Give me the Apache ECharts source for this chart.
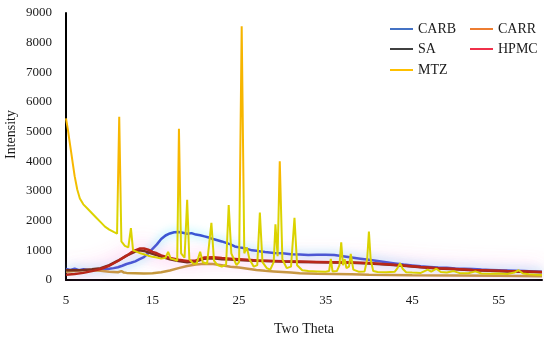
<!DOCTYPE html>
<html>
<head>
<meta charset="utf-8">
<script src="https://cdn.jsdelivr.net/npm/echarts@6/dist/echarts.min.js"></script>
<style>html,body{margin:0;padding:0;background:#fff}#c{width:550px;height:341px}</style>
</head>
<body>
<div id="c"></div>
<script>
// ---- data ----
var xTicks = [5, 15, 25, 35, 45, 55];
var yTicks = [0, 1000, 2000, 3000, 4000, 5000, 6000, 7000, 8000, 9000];
var seriesNames = ['CARB', 'CARR', 'SA', 'HPMC', 'MTZ'];

var carbX = [5,5.5,6,6.5,7,7.5,8,8.5,9,9.5,10,10.5,11,11.5,12,12.5,13,13.5,14,14.5,15,15.5,16,16.5,17,17.5,18,18.5,19,19.5,20,20.5,21,21.5,22,22.5,23,23.5,24,24.5,25,25.5,26,26.5,27,27.5,28,29,30,31,32,33,34,35,36,37,38,39,40,41,42,43,44,45,46,47,48,49,50,51,52,53,54,55,56,57,58,59,60];
var carbY = [370,340,380,330,360,340,330,360,350,370,380,400,430,480,540,580,630,700,770,900,1050,1200,1380,1500,1570,1610,1620,1590,1560,1580,1530,1510,1470,1430,1380,1340,1300,1250,1200,1130,1100,1080,1040,1000,990,960,940,910,900,870,860,840,850,850,840,800,760,720,680,640,600,560,520,490,460,440,420,410,390,380,370,350,340,330,320,310,300,290,280];

var carrX = [5,6,7,8,9,10,11,11.4,11.7,12,13,14,15,16,17,18,19,20,21,22,23,24,25,26,27,28,29,30,31,32,34,36,38,40,45,50,55,60];
var carrY = [280,300,330,330,310,280,260,300,250,240,230,220,230,260,320,400,470,520,550,540,500,450,420,380,340,310,290,270,250,230,210,200,190,180,160,150,140,130];

var saX = [5,6,7,8,9,10,11,12,13,13.5,14,15,16,17,18,19,20,21,22,23,24,26,28,30,32,34,36,38,40,42,44,46,48,50,52,54,56,58,60];
var saY = [330,330,340,360,400,500,650,820,960,1000,980,880,790,700,640,600,620,720,730,700,690,660,640,620,610,600,590,580,560,520,480,430,390,360,330,310,290,280,260];

var hpmcX = [5,6,7,8,9,10,11,12,12.5,13,13.5,14,14.5,15,15.5,16,17,18,19,20,21,22,23,24,25,26,27,28,30,32,34,36,38,40,42,44,46,48,50,52,54,56,58,60];
var hpmcY = [180,200,240,300,370,480,640,820,920,1000,1060,1060,1020,950,900,830,740,680,640,660,760,770,740,720,700,680,660,650,630,620,610,600,590,570,530,490,440,400,370,340,320,300,290,270];

var mtzX = [5,5.2,5.4,5.6,5.8,6,6.3,6.6,7,7.5,8,8.5,9,9.5,10,10.5,10.9,11.15,11.4,11.8,12.2,12.5,12.75,13.2,13.6,14,14.5,15,15.5,16,16.5,16.8,17.1,17.6,17.85,18.05,18.3,18.7,19,19.25,19.7,20.1,20.5,20.8,21.3,21.8,22.1,22.5,23,23.5,23.8,24.1,24.4,24.7,25,25.3,25.6,25.9,26.2,26.7,27.1,27.4,27.7,28.2,28.6,29,29.2,29.45,29.7,30,30.5,31,31.4,31.7,32.3,33,34,35,35.4,35.6,35.8,36.3,36.6,36.8,37,37.2,37.4,37.7,37.9,38.2,38.8,39.5,39.8,40,40.2,40.5,41,42,43,43.3,43.6,43.9,44.3,45,46,46.8,47.2,47.8,48.3,49,49.8,50.5,51.5,52.3,53,54,55,56,56.8,57.3,57.8,58.5,59.3,60];
var mtzY = [5450,5100,4700,4300,3900,3500,3050,2750,2550,2400,2250,2100,1950,1800,1700,1620,1560,5500,1300,1150,1100,1750,1000,950,900,870,820,780,760,720,750,950,720,680,650,5100,900,750,2700,700,550,560,950,600,550,1930,650,500,450,520,2530,900,700,500,600,8550,900,1100,700,450,500,2270,600,400,350,600,1880,800,4000,700,400,450,2100,500,330,300,290,280,300,710,290,300,500,1270,500,700,400,450,880,350,280,290,700,1630,700,300,270,260,280,400,570,380,260,250,240,350,280,380,270,250,300,230,230,290,220,210,220,200,250,330,220,190,180,170];

function pairs(xs, ys) { return xs.map(function (x, i) { return [x, ys[i]]; }); }

var serif = '"Liberation Serif","DejaVu Serif",serif';
var legendColors = {CARB:'#4472C4', CARR:'#ED7D31', SA:'#404040', HPMC:'#F0304A', MTZ:'#FFC000'};
var legendPos = {CARB:[385,17], CARR:[465,17], SA:[385,37], HPMC:[465,37], MTZ:[385,58]};

var legends = seriesNames.map(function (n) {
  return {
    left: legendPos[n][0], top: legendPos[n][1],
    itemWidth: 23, itemHeight: 2, itemGap: 0,
    textStyle: {fontFamily: serif, fontSize: 14, color: '#1a1a1a'},
    selectedMode: false,
    data: [{name: n, icon: 'rect', itemStyle: {color: legendColors[n], opacity: 1}}]
  };
});

var mtzGrad = new echarts.graphic.LinearGradient(0, 0, 0, 1, [
  {offset: 0, color: '#F5B400'},
  {offset: 0.6, color: '#F8B800'},
  {offset: 0.74, color: '#DCD400'},
  {offset: 1, color: '#D8D000'}
]);

var chart = echarts.init(document.getElementById('c'), null, {renderer: 'canvas'});
chart.setOption({
  animation: false,
  backgroundColor: '#fff',
  legend: legends,
  grid: {left: 66, right: 8, top: 13, bottom: 58},
  xAxis: {
    type: 'value', min: 5, max: 60, interval: 5,
    name: 'Two Theta', nameLocation: 'middle', nameGap: 42,
    nameTextStyle: {fontFamily: serif, fontSize: 14, color: '#1a1a1a'},
    axisLine: {show: true, lineStyle: {color: '#000', width: 2}},
    axisTick: {show: false},
    splitLine: {show: false},
    axisLabel: {
      fontFamily: serif, fontSize: 13, color: '#1a1a1a', margin: 14,
      formatter: function (v) { return xTicks.indexOf(v) >= 0 ? String(v) : ''; }
    }
  },
  yAxis: {
    type: 'value', min: 0, max: 9000, interval: 1000,
    axisLine: {show: true, lineStyle: {color: '#000', width: 2}},
    axisTick: {show: false},
    splitLine: {show: false},
    axisLabel: {
      fontFamily: serif, fontSize: 13, color: '#1a1a1a', margin: 14,
      formatter: function (v) { return yTicks.indexOf(v) >= 0 ? String(v) : ''; }
    }
  },
  graphic: [{
    type: 'text', left: 4, top: 110, rotation: Math.PI / 2,
    style: {text: 'Intensity', font: '14px ' + serif, fill: '#1a1a1a'}
  }],
  series: [
    {name: 'CARB', type: 'line', symbol: 'none', data: pairs(carbX, carbY),
     itemStyle: {color: '#4472C4'},
     lineStyle: {color: '#3A56D4', width: 2.5, shadowColor: 'rgba(0,225,255,0.6)', shadowBlur: 10}},
    {name: 'CARR', type: 'line', symbol: 'none', data: pairs(carrX, carrY),
     itemStyle: {color: '#ED7D31'},
     lineStyle: {color: '#C49A3A', width: 2.5}},
    {name: 'SA', type: 'line', symbol: 'none', data: pairs(saX, saY),
     itemStyle: {color: '#404040'},
     lineStyle: {color: '#6E2A14', width: 2.5, shadowColor: 'rgba(255,120,220,0.55)', shadowBlur: 16}},
    {name: 'HPMC', type: 'line', symbol: 'none', data: pairs(hpmcX, hpmcY),
     itemStyle: {color: '#F0304A'},
     lineStyle: {color: '#B8261A', width: 2.5, shadowColor: 'rgba(255,110,210,0.7)', shadowBlur: 20}},
    {name: 'MTZ', type: 'line', symbol: 'none', data: pairs(mtzX, mtzY),
     itemStyle: {color: '#FFC000'},
     lineStyle: {color: mtzGrad, width: 2}}
  ]
});
</script>
</body>
</html>
